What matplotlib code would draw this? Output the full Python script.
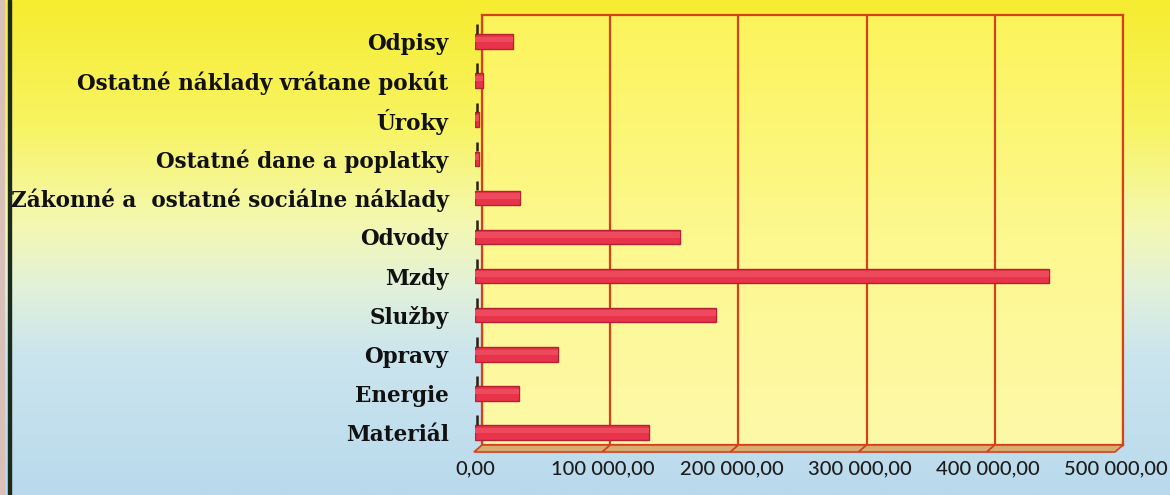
import numpy as np
import matplotlib
matplotlib.use("Agg")
import matplotlib.pyplot as plt
import matplotlib.ticker
from matplotlib.colors import LinearSegmentedColormap
from matplotlib.patches import Polygon

# categories from bottom to top, as in the chart
categories = ["Materiál", "Energie", "Opravy", "Služby", "Mzdy", "Odvody",
              "Zákonné a  ostatné sociálne náklady", "Ostatné dane a poplatky",
              "Úroky", "Ostatné náklady vrátane pokút", "Odpisy"]
values = [136000, 34000, 65000, 188000, 448000, 160000, 35000, 3500, 3500, 6500, 30000]
x_ticks = [0, 100000, 200000, 300000, 400000, 500000]

W, H = 1170, 495

def px(x0, y0, x1, y1):
    return [x0 / W, 1 - y1 / H, (x1 - x0) / W, (y1 - y0) / H]

def money(v, pos):
    s = "{:,.2f}".format(v)
    return s.replace(",", " ").replace(".", ",")

fig = plt.figure(figsize=(11.7, 4.95), dpi=100)

# background gradient yellow -> light blue
bg = fig.add_axes([0, 0, 1, 1], zorder=-10)
bg_cmap = LinearSegmentedColormap.from_list("bg", [(0.0, "#f6ec30"), (0.25, "#f8f462"),
                                                     (0.45, "#f4f8b0"), (0.58, "#e2f1da"),
                                                     (0.72, "#cbe5ee"), (1.0, "#b9d9ec")])
bg.imshow(np.linspace(0, 1, 256).reshape(-1, 1), cmap=bg_cmap, aspect="auto",
          extent=[0, 1, 0, 1], origin="upper")
bg.set_xlim(0, 1)
bg.set_ylim(0, 1)
bg.axvspan(0.0, 0.003, color="#d9c0b8")
bg.axvspan(0.0068, 0.0092, color="#1c2a1c")
bg.axis("off")

# back wall
wall = fig.add_axes(px(482, 15, 1123, 445), zorder=-5)
wall_cmap = LinearSegmentedColormap.from_list("wall", ["#fcf45a", "#fdf88e", "#fef9a8"])
wall.imshow(np.linspace(0, 1, 256).reshape(-1, 1), cmap=wall_cmap, aspect="auto",
            extent=[0, 500000, 0, 1], origin="upper")
wall.set_xlim(0, 500000)
wall.set_ylim(0, 1)
wall.set_xticks(x_ticks)
wall.set_yticks([])
wall.tick_params(length=0, labelbottom=False)
wall.grid(axis="x", color="#d8401c", linewidth=1.6)
for sp in wall.spines.values():
    sp.set_color("#d8401c")
    sp.set_linewidth(1.6)

# floor strip below the wall
dx, dy = -8, 7
for v0, v1 in zip(x_ticks[:-1], x_ticks[1:]):
    (xa, ya) = wall.transData.transform((v0, 0))
    (xb, yb) = wall.transData.transform((v1, 0))
    pts = [(xa, ya), (xb, yb), (xb + dx, yb - dy), (xa + dx, ya - dy)]
    pts = [fig.transFigure.inverted().transform(p) for p in pts]
    fig.patches.append(Polygon(pts, closed=True, facecolor="#d8ac70", edgecolor="#d8401c",
                               linewidth=1.2, transform=fig.transFigure, zorder=-4))

# front plane with the bars
ax = fig.add_axes(px(475, 22, 1116, 452), zorder=1)
ax.patch.set_alpha(0)
ypos = np.arange(len(categories))
ax.barh(ypos, values, height=0.37, color="#e8334a", edgecolor="#b42236", linewidth=1.0)
ax.barh(ypos + 0.05, values, height=0.14, color="#ee4a5e", linewidth=0)
ax.vlines(np.full(len(categories), 1500), ypos + 0.19, ypos + 0.44, color="#2a2010", linewidth=1.8)

ax.set_xlim(0, 500000)
ax.set_ylim(-0.5, len(categories) - 0.5)
ax.set_xticks(x_ticks)
ax.xaxis.set_major_formatter(matplotlib.ticker.FuncFormatter(money))
ax.set_yticks(ypos)
ax.set_yticklabels(categories, family="DejaVu Serif", fontweight="bold", fontsize=15.5)
ax.tick_params(axis="y", length=0, pad=19, colors="#111111")
ax.tick_params(axis="x", length=0, pad=6, labelsize=14.5, colors="#1c1c1c")
for lab in ax.get_xticklabels():
    lab.set_family("Lato")
    lab.set_fontweight("medium")
for sp in ax.spines.values():
    sp.set_visible(False)

plt.savefig("out.png", dpi=100)
